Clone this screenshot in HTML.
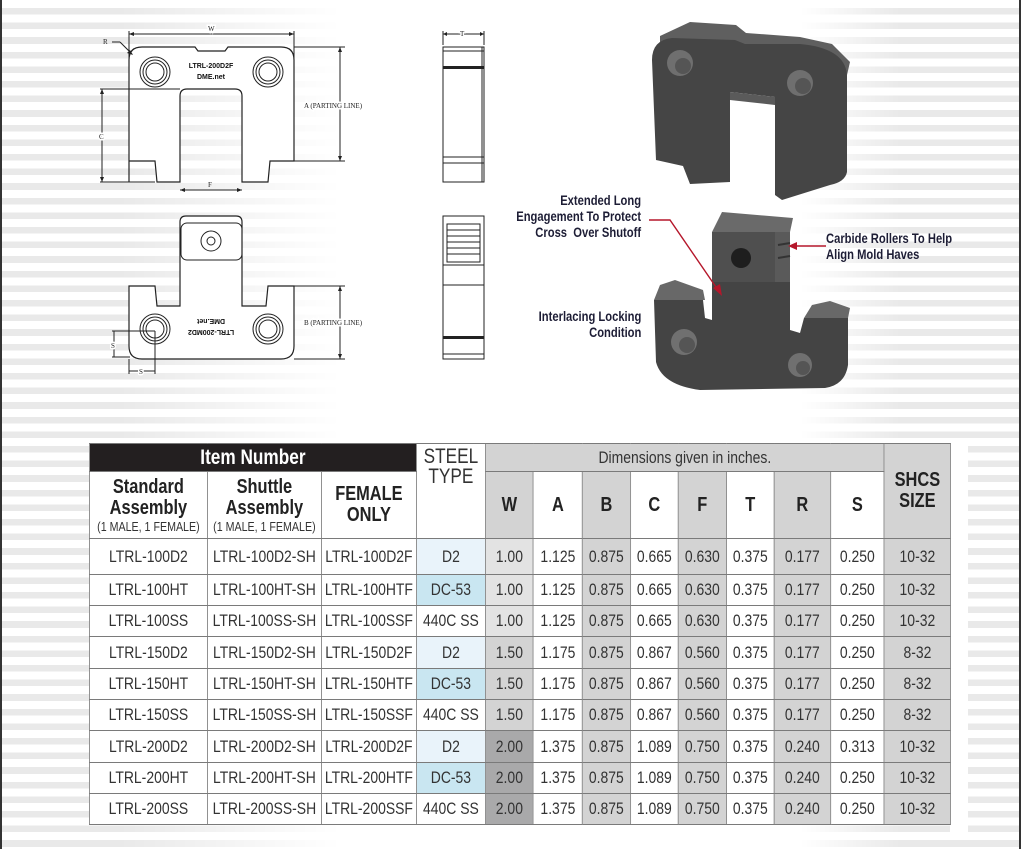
<!DOCTYPE html>
<html><head><meta charset="utf-8"><style>
body{margin:0;width:1021px;height:849px;position:relative;overflow:hidden;background:#fff;font-family:"Liberation Sans",sans-serif;}
.stripes{position:absolute;left:0;top:0;width:1021px;height:849px;
background:repeating-linear-gradient(to bottom,#fff 0,#fff 8px,#e9e9e9 8px,#e9e9e9 14.6px);
-webkit-mask-image:linear-gradient(to right,#000 0,#000 120px,rgba(0,0,0,0) 340px,rgba(0,0,0,0) 800px,#000 900px);
mask-image:linear-gradient(to right,#000 0,#000 120px,rgba(0,0,0,0) 340px,rgba(0,0,0,0) 800px,#000 900px);}
.edge{position:absolute;top:0;width:2px;height:849px;background:#333}
svg{position:absolute;left:0;top:0}
table{position:absolute;left:89px;top:443px;width:1050px;border-collapse:collapse;table-layout:fixed;color:#333;background:#fff;transform:scaleX(0.82);transform-origin:0 0}
td{border:1.5px solid #7a7a7a;text-align:center;padding:0;font-size:17px;overflow:hidden;white-space:nowrap}
.g{background:#d3d3d3}.lg{background:#e3e3e3}.dg{background:#a9a9aa}
.d2{background:#e9f3fa}.dc{background:#c9e6f1}
.hb{font-weight:bold;font-size:20px;line-height:21px;color:#222}
.sm{font-size:13px;color:#333}
.lbl{position:absolute;font-weight:bold;font-size:14px;line-height:16px;color:#1d1d35;white-space:nowrap;transform:scaleX(0.8)}
</style></head><body>
<div class="stripes"></div>
<div class="edge" style="left:0"></div>
<div class="edge" style="left:1019px"></div>
<div style="position:absolute;left:950px;top:440px;width:18px;height:400px;background:#fff"></div>

<svg width="1021" height="440" viewBox="0 0 1021 440">
<g fill="none" stroke="#222" stroke-width="1">
<path d="M129,182 L129,60 Q129,47 142,47 L195,47 L198,51 L225,51 L228,47 L281,47 Q294,47 294,60 L294,161 L270,161 L268,182 L242,182 L242,96 Q242,89 235,89 L187,89 Q180,89 180,96 L180,182 L157,182 L155,161 L129,161" fill="#fff" stroke-width="1.2"/>
<circle cx="155" cy="72" r="15"/><circle cx="155" cy="72" r="12"/><circle cx="155" cy="72" r="9"/>
<circle cx="268" cy="72" r="15"/><circle cx="268" cy="72" r="12"/><circle cx="268" cy="72" r="9"/>
<line x1="129" y1="34" x2="294" y2="34"/><line x1="129" y1="31" x2="129" y2="60"/><line x1="294" y1="31" x2="294" y2="60"/>
<line x1="294" y1="47" x2="345" y2="47"/><line x1="294" y1="161" x2="345" y2="161"/><line x1="340" y1="47" x2="340" y2="161"/>
<line x1="100" y1="89" x2="180" y2="89"/><line x1="100" y1="182" x2="155" y2="182"/><line x1="102" y1="89" x2="102" y2="182"/>
<line x1="180" y1="190" x2="242" y2="190"/>
<line x1="112" y1="42" x2="120" y2="42"/><line x1="120" y1="42" x2="132" y2="54"/>
<line x1="443" y1="34" x2="484" y2="34"/><line x1="443" y1="31" x2="443" y2="45"/><line x1="484" y1="31" x2="484" y2="45"/>
<rect x="443" y="47" width="41" height="135" fill="#fff"/>
<line x1="443" y1="51" x2="484" y2="51"/><line x1="443" y1="157" x2="484" y2="157"/><line x1="443" y1="163" x2="484" y2="163"/>
<line x1="482" y1="47" x2="482" y2="182"/>
<path d="M129,286 L155,286 L157,306 L180,306 L180,222 Q180,216 186,216 L236,216 Q242,216 242,222 L242,306 L266,306 L268,286 L294,286 L294,346 Q294,359 281,359 L142,359 Q129,359 129,346 Z" fill="#fff" stroke-width="1.2"/>
<rect x="181" y="223" width="61" height="37" rx="6"/>
<circle cx="211" cy="241" r="10"/><circle cx="211" cy="241" r="4"/>
<circle cx="155" cy="329" r="15"/><circle cx="155" cy="329" r="12"/><circle cx="155" cy="329" r="9"/>
<circle cx="268" cy="329" r="15"/><circle cx="268" cy="329" r="12"/><circle cx="268" cy="329" r="9"/>
<line x1="294" y1="286" x2="345" y2="286"/><line x1="294" y1="359" x2="345" y2="359"/><line x1="340" y1="286" x2="340" y2="359"/>
<line x1="112" y1="331" x2="155" y2="331"/><line x1="112" y1="357" x2="130" y2="357"/><line x1="114" y1="331" x2="114" y2="357"/>
<line x1="129" y1="359" x2="129" y2="374"/><line x1="155" y1="331" x2="155" y2="374"/><line x1="129" y1="371" x2="155" y2="371"/>
<rect x="443" y="216" width="41" height="143" fill="#fff"/>
<rect x="447" y="224" width="33" height="38"/>
<line x1="447" y1="230" x2="480" y2="230"/><line x1="447" y1="236" x2="480" y2="236"/><line x1="447" y1="242" x2="480" y2="242"/><line x1="447" y1="248" x2="480" y2="248"/><line x1="447" y1="254" x2="480" y2="254"/>
<line x1="443" y1="265" x2="484" y2="265"/><line x1="443" y1="285" x2="484" y2="285"/><line x1="443" y1="354" x2="484" y2="354"/>
</g>
<g fill="#222">
<rect x="443" y="66" width="41" height="3"/><rect x="443" y="336" width="41" height="3"/>
<polygon points="129,34 134,32 134,36"/><polygon points="294,34 289,32 289,36"/>
<polygon points="340,47 338,52 342,52"/><polygon points="340,161 338,156 342,156"/>
<polygon points="102,89 100,94 104,94"/><polygon points="102,182 100,177 104,177"/>
<polygon points="180,190 185,188 185,192"/><polygon points="242,190 237,188 237,192"/>
<polygon points="340,286 338,291 342,291"/><polygon points="340,359 338,354 342,354"/>
<polygon points="443,34 447,32 447,36"/><polygon points="484,34 480,32 480,36"/>
<polygon points="133,55 127,53 130,50"/>
</g>
<g font-family="Liberation Serif,serif" font-size="7" fill="#222">
<text x="208" y="31" style="stroke:#fff;stroke-width:3;paint-order:stroke">W</text>
<text x="103" y="44">R</text>
<text x="304" y="108" style="stroke:#fff;stroke-width:3;paint-order:stroke">A  (PARTING LINE)</text>
<text x="99" y="139" style="stroke:#fff;stroke-width:3;paint-order:stroke">C</text>
<text x="208" y="187">F</text>
<text x="460" y="36" style="stroke:#fff;stroke-width:3;paint-order:stroke">T</text>
<text x="304" y="325" style="stroke:#fff;stroke-width:3;paint-order:stroke">B  (PARTING LINE)</text>
<text x="111" y="348" style="stroke:#fff;stroke-width:3;paint-order:stroke">S</text>
<text x="139" y="374" style="stroke:#fff;stroke-width:3;paint-order:stroke">S</text>
</g>
<g font-family="Liberation Sans,sans-serif" font-weight="bold" font-size="7" fill="#111" text-anchor="middle">
<text x="211" y="68">LTRL-200D2F</text><text x="211" y="79">DME.net</text>
<g transform="rotate(180 211 328)"><text x="211" y="326">LTRL-200MD2</text><text x="211" y="337">DME.net</text></g>
</g>
<path d="M660,36 L690,22 L736,25 L746,33 L800,37 L832,44 L850,62 L847,75 L660,50 Z" fill="#5f5f5f"/>
<path d="M652,60 Q652,40 672,38 L735,40 L745,44 L800,44 Q845,48 847,75 L847,172 Q845,182 830,185 L782,200 L775,195 L775,97 L730,92 L730,182 L690,184 L683,166 L656,160 Z" fill="#454545"/>
<path d="M730,92 L775,97 L775,105 L730,100 Z" fill="#5a5a5a"/>
<circle cx="680" cy="63" r="13" fill="#6f6f6f"/><circle cx="683" cy="66" r="8" fill="#555"/>
<circle cx="800" cy="83" r="13" fill="#6f6f6f"/><circle cx="803" cy="86" r="8" fill="#555"/>
<path d="M712,232 L722,212 L793,218 L790,232 Z" fill="#6a6a6a"/>
<rect x="712" y="232" width="78" height="52" fill="#4f4f4f"/>
<path d="M775,232 L790,232 L790,284 L775,284 Z" fill="#5a5a5a"/>
<line x1="778" y1="245" x2="790" y2="243" stroke="#333" stroke-width="2"/><line x1="778" y1="258" x2="790" y2="256" stroke="#333" stroke-width="2"/>
<circle cx="741" cy="258" r="10" fill="#1e1e1e"/>
<path d="M654,300 L660,285 L675,280 L703,290 L705,300 Z" fill="#686868"/>
<path d="M804,318 L812,305 L830,301 L850,308 L848,318 Z" fill="#686868"/>
<path d="M654,300 L703,300 L705,318 L712,320 L712,282 L790,282 L790,330 L800,333 L804,318 L848,318 L848,365 Q845,385 825,388 L700,390 Q662,385 656,362 Z" fill="#444"/>
<circle cx="684" cy="342" r="13" fill="#707070"/><circle cx="687" cy="345" r="8" fill="#555"/>
<circle cx="800" cy="365" r="12" fill="#707070"/><circle cx="803" cy="368" r="7" fill="#555"/>
<g stroke="#b5172b" stroke-width="1.4" fill="none"><polyline points="649,220 670,220 718,290"/><line x1="826" y1="246" x2="795" y2="246"/></g>
<polygon points="722,296 713,288 720,284" fill="#b5172b"/>
<polygon points="788,246 797,242 797,250" fill="#b5172b"/>
</svg>

<div class="lbl" style="right:380px;top:192px;text-align:right;transform-origin:100% 0">Extended Long<br>Engagement To Protect<br>Cross&nbsp; Over Shutoff</div>
<div class="lbl" style="right:380px;top:308px;text-align:right;transform-origin:100% 0">Interlacing Locking<br>Condition</div>
<div class="lbl" style="left:826px;top:230px;transform-origin:0 0">Carbide Rollers To Help<br>Align Mold Haves</div>

<table>
<colgroup><col style="width:143.9px"><col style="width:139px"><col style="width:115.9px"><col style="width:84.1px"><col style="width:58.5px"><col style="width:59.8px"><col style="width:58.5px"><col style="width:58.5px"><col style="width:58.5px"><col style="width:58.5px"><col style="width:68.3px"><col style="width:65.9px"><col style="width:80.5px"></colgroup>
<tr style="height:28px"><td colspan="3" style="background:#231f20;color:#fff;font-weight:bold;font-size:21px">Item Number</td><td rowspan="2" style="vertical-align:top;font-size:21px;line-height:20px;padding-top:3px">STEEL<br>TYPE</td><td colspan="8" class="g" style="font-size:17px">Dimensions given in inches.</td><td rowspan="2" class="g hb">SHCS<br>SIZE</td></tr>
<tr style="height:67px"><td><div class="hb">Standard<br>Assembly</div><div class="sm">(1 MALE, 1 FEMALE)</div></td><td><div class="hb">Shuttle<br>Assembly</div><div class="sm">(1 MALE, 1 FEMALE)</div></td><td class="hb">FEMALE<br>ONLY</td>
<td class="g hb">W</td><td class="hb">A</td><td class="g hb">B</td><td class="hb">C</td><td class="g hb">F</td><td class="hb">T</td><td class="g hb">R</td><td class="hb">S</td></tr>
<tr style="height:36px"><td>LTRL-100D2</td><td>LTRL-100D2-SH</td><td>LTRL-100D2F</td><td class="d2">D2</td><td class="lg">1.00</td><td>1.125</td><td class="g">0.875</td><td>0.665</td><td class="g">0.630</td><td>0.375</td><td class="g">0.177</td><td>0.250</td><td class="g">10-32</td></tr>
<tr style="height:31px"><td>LTRL-100HT</td><td>LTRL-100HT-SH</td><td>LTRL-100HTF</td><td class="dc">DC-53</td><td class="lg">1.00</td><td>1.125</td><td class="g">0.875</td><td>0.665</td><td class="g">0.630</td><td>0.375</td><td class="g">0.177</td><td>0.250</td><td class="g">10-32</td></tr>
<tr style="height:31px"><td>LTRL-100SS</td><td>LTRL-100SS-SH</td><td>LTRL-100SSF</td><td>440C SS</td><td class="lg">1.00</td><td>1.125</td><td class="g">0.875</td><td>0.665</td><td class="g">0.630</td><td>0.375</td><td class="g">0.177</td><td>0.250</td><td class="g">10-32</td></tr>
<tr style="height:32px"><td>LTRL-150D2</td><td>LTRL-150D2-SH</td><td>LTRL-150D2F</td><td class="d2">D2</td><td class="g">1.50</td><td>1.175</td><td class="g">0.875</td><td>0.867</td><td class="g">0.560</td><td>0.375</td><td class="g">0.177</td><td>0.250</td><td class="g">8-32</td></tr>
<tr style="height:31px"><td>LTRL-150HT</td><td>LTRL-150HT-SH</td><td>LTRL-150HTF</td><td class="dc">DC-53</td><td class="g">1.50</td><td>1.175</td><td class="g">0.875</td><td>0.867</td><td class="g">0.560</td><td>0.375</td><td class="g">0.177</td><td>0.250</td><td class="g">8-32</td></tr>
<tr style="height:31px"><td>LTRL-150SS</td><td>LTRL-150SS-SH</td><td>LTRL-150SSF</td><td>440C SS</td><td class="g">1.50</td><td>1.175</td><td class="g">0.875</td><td>0.867</td><td class="g">0.560</td><td>0.375</td><td class="g">0.177</td><td>0.250</td><td class="g">8-32</td></tr>
<tr style="height:32px"><td>LTRL-200D2</td><td>LTRL-200D2-SH</td><td>LTRL-200D2F</td><td class="d2">D2</td><td class="dg">2.00</td><td>1.375</td><td class="g">0.875</td><td>1.089</td><td class="g">0.750</td><td>0.375</td><td class="g">0.240</td><td>0.313</td><td class="g">10-32</td></tr>
<tr style="height:31px"><td>LTRL-200HT</td><td>LTRL-200HT-SH</td><td>LTRL-200HTF</td><td class="dc">DC-53</td><td class="dg">2.00</td><td>1.375</td><td class="g">0.875</td><td>1.089</td><td class="g">0.750</td><td>0.375</td><td class="g">0.240</td><td>0.250</td><td class="g">10-32</td></tr>
<tr style="height:31px"><td>LTRL-200SS</td><td>LTRL-200SS-SH</td><td>LTRL-200SSF</td><td>440C SS</td><td class="dg">2.00</td><td>1.375</td><td class="g">0.875</td><td>1.089</td><td class="g">0.750</td><td>0.375</td><td class="g">0.240</td><td>0.250</td><td class="g">10-32</td></tr>
</table>
</body></html>
